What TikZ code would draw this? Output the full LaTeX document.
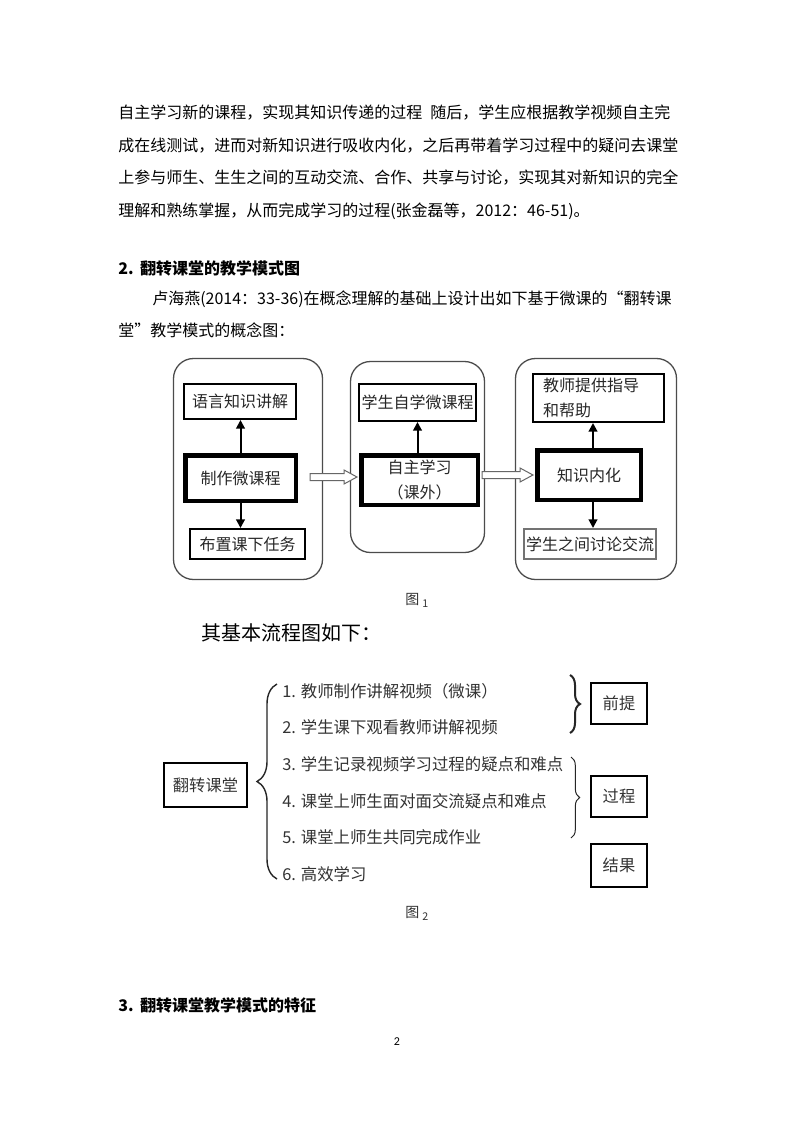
\documentclass[tikz,border=0pt]{standalone}
\usepackage{fontspec}
\setmainfont{Noto Sans CJK SC}
\newfontfamily\pgnum{Carlito}
\usetikzlibrary{calc,arrows.meta,decorations.pathreplacing}
\newdimen\px \px=0.75pt
\XeTeXlinebreaklocale "zh"
\XeTeXlinebreakskip=0pt plus 1pt
\begin{document}
\begin{tikzpicture}[x=0.75pt,y=-0.75pt,
  every node/.style={inner sep=0pt},
  body/.style={anchor=base west, font=\fontsize{12}{16}\selectfont},
  head/.style={anchor=base west, font=\bfseries\fontsize{12}{16}\selectfont},
  thinbox/.style={draw, line width=2*\px, text=black!85, font=\fontsize{12}{16}\selectfont},
  thickbox/.style={draw, line width=4.5*\px, text=black!85, font=\fontsize{12}{16}\selectfont},
  outerbox/.style={draw=black!70, line width=1.3*\px, rounded corners=20*\px},
  arr/.style={line width=2*\px, -{Triangle[length=6.5pt,width=6.5pt]}},
  harrow/.style={draw=black!60, line width=1*\px, fill=white},
  item/.style={anchor=base west, text=black!80, font=\fontsize{12.3}{16}\selectfont},
  fbox/.style={draw, line width=2*\px, text=black!80, font=\fontsize{12.2}{16}\selectfont},
  brc/.style={decorate, decoration={brace, amplitude=#1}, line width=1.4*\px, black!85},
  figcap/.style={anchor=base west, text=black!80, font=\fontsize{10.5}{12}\selectfont}
]
\fill[white] (0,0) rectangle (794,1123);
\useasboundingbox (0,0) rectangle (794,1123);

% ---------- body text ----------
\node[body] (t1) at (118,119) {\makebox[558\px][s]{自主学习新的课程，实现其知识传递的过程\hspace{0.5em}随后，学生应根据教学视频自主完}};
\node[body] (t2) at (118,151.5) {\makebox[558\px][s]{成在线测试，进而对新知识进行吸收内化，之后再带着学习过程中的疑问去课堂}};
\node[body] (t3) at (118,184) {\makebox[558\px][s]{上参与师生、生生之间的互动交流、合作、共享与讨论，实现其对新知识的完全}};
\node[body] (t4) at (118,216.5) {理解和熟练掌握，从而完成学习的过程(张金磊等，2012：46-51)。};

\node[head] (h2) at (118,274) {2.\hspace{0.4em}翻转课堂的教学模式图};
\node[body] (p1) at (152,304) {\makebox[524\px][s]{卢海燕(2014：33-36)在概念理解的基础上设计出如下基于微课的“翻转课}};
\node[body] (p2) at (118,336) {堂”教学模式的概念图：};

% ---------- figure 1 ----------
\node[outerbox, minimum width=149*\px, minimum height=221*\px] (L) at (248,469) {};
\node[outerbox, minimum width=134*\px, minimum height=191*\px] (M) at (417.5,457) {};
\node[outerbox, minimum width=161*\px, minimum height=221*\px] (R) at (596,469) {};

\node[thinbox, minimum width=112*\px, minimum height=35*\px] (A1) at (240,401.5) {语言知识讲解};
\node[thickbox, minimum width=110.5*\px, minimum height=45.5*\px] (A2) at (240.5,478) {制作微课程};
\node[thinbox, minimum width=115*\px, minimum height=30*\px] (A3) at (247.5,544) {布置课下任务};

\node[thinbox, minimum width=117*\px, minimum height=37*\px] (B1) at (417.5,402.5) {学生自学微课程};
\node[thickbox, minimum width=116.5*\px, minimum height=49.5*\px, align=center, font=\fontsize{12}{19}\selectfont] (B2) at (419.5,480) {自主学习\\（课外）};

\node[thinbox, minimum width=131*\px, minimum height=48*\px, text width=111*\px, inner xsep=10*\px, align=left, font=\fontsize{12}{19}\selectfont] (C1) at (598.5,398) {教师提供指导\\和帮助};
\node[thickbox, minimum width=103.5*\px, minimum height=49.5*\px] (C2) at (589,475) {知识内化};
\node[thinbox, draw=black!55, minimum width=132*\px, minimum height=30*\px] (C3) at (590,544) {学生之间讨论交流};

\draw[arr] (A2.north) -- (A2.north |- A1.south);
\draw[arr] (A2.south) -- (A2.south |- A3.north);
\draw[arr] (B1.south |- B2.north) -- (B1.south);
\draw[arr] ($(C2.north)+(4,0)$) -- ($(C2.north |- C1.south)+(4,0)$);
\draw[arr] ($(C2.south)+(4,0)$) -- ($(C2.south |- C3.north)+(4,0)$);

\coordinate (h1s) at ($(A2.east)+(12,-1)$);
\coordinate (h1e) at ($(B2.west |- A2.east)+(-2,-1)$);
\coordinate (h2s) at ($(B2.east |- C2.west)+(2,0)$);
\coordinate (h2e) at ($(C2.west)+(-2,0)$);
\foreach \s/\e in {h1s/h1e,h2s/h2e}{
  \draw[harrow] ($(\s)+(0,-3.5)$) -- ($(\e)+(-13,-3.5)$) -- ($(\e)+(-13,-7)$) -- (\e)
     -- ($(\e)+(-13,7)$) -- ($(\e)+(-13,3.5)$) -- ($(\s)+(0,3.5)$) -- cycle;
}

\node[figcap] (cap1) at (405,604) {图\hspace{3\px}\raisebox{-3.5\px}{\fontsize{8}{9}\selectfont 1}};

\node[anchor=base west, font=\fontsize{15}{18}\selectfont] (q) at (201,640) {其基本流程图如下：};

% ---------- figure 2 ----------
\node[fbox, minimum width=83*\px, minimum height=44*\px] (F) at (205.5,785) {翻转课堂};

\node[item] (i1) at (282,697) {1.\hspace{0.3em}教师制作讲解视频（微课）};
\node[item] (i2) at (282,733.7) {2.\hspace{0.3em}学生课下观看教师讲解视频};
\node[item] (i3) at (282,770.4) {3.\hspace{0.3em}学生记录视频学习过程的疑点和难点};
\node[item] (i4) at (282,807.1) {4.\hspace{0.3em}课堂上师生面对面交流疑点和难点};
\node[item] (i5) at (282,843.8) {5.\hspace{0.3em}课堂上师生共同完成作业};
\node[item] (i6) at (282,880.5) {6.\hspace{0.3em}高效学习};

\coordinate (bb1) at (277,879);
\coordinate (bb2) at (277,684);
\draw[brc=15pt] (bb1) -- (bb2);

\node[fbox, minimum width=56*\px, minimum height=41*\px] (P1) at (619,703) {前提};
\node[fbox, minimum width=56*\px, minimum height=41*\px] (P2) at (619,796.5) {过程};
\node[fbox, minimum width=56*\px, minimum height=43*\px] (P3) at (619,865.5) {结果};

\coordinate (r1a) at (570,675);
\coordinate (r1b) at (570,733);
\coordinate (r2a) at (571,757);
\coordinate (r2b) at (571,838);
\draw[brc=7.5pt, line width=2*\px] (r1a) -- (r1b);
\draw[brc=6.5pt, line width=1*\px] (r2a) -- (r2b);

\node[figcap] (cap2) at (405,917) {图\hspace{3\px}\raisebox{-3.5\px}{\fontsize{8}{9}\selectfont 2}};

% ---------- following text ----------
\node[head] (h3) at (118,1011) {3.\hspace{0.4em}翻转课堂教学模式的特征};
\node[font=\pgnum\fontsize{9}{11}\selectfont] (pg) at (397,1042) {2};
\end{tikzpicture}
\end{document}
